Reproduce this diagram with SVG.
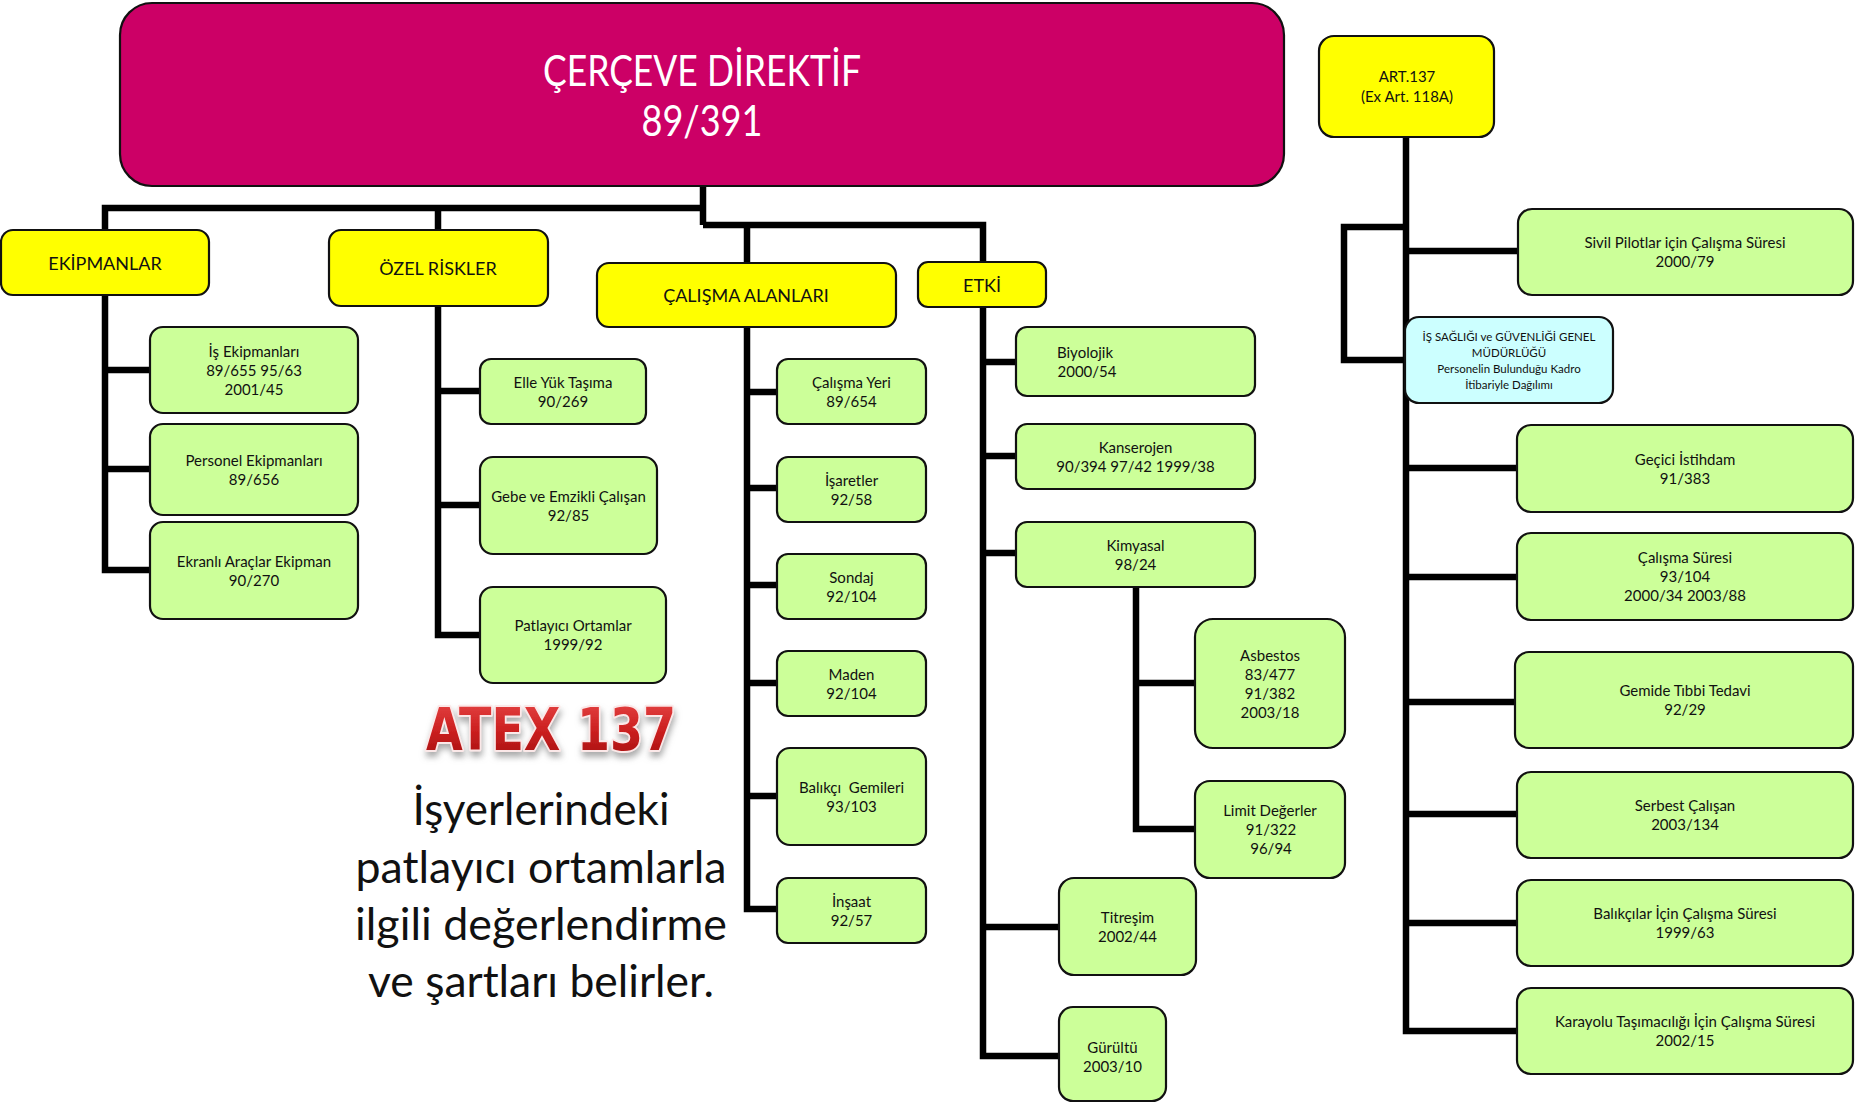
<svg xmlns="http://www.w3.org/2000/svg" width="1863" height="1103" viewBox="0 0 1863 1103">
<defs>
<style>
.g{fill:#CCFF99;stroke:#111;stroke-width:2.2}
.y{fill:#FFFF00;stroke:#111;stroke-width:2.2}
.c{fill:#CCFFFF;stroke:#111;stroke-width:2.2}
.t{font-family:Lato,'Noto Sans',sans-serif;font-size:15px;fill:#111;text-anchor:middle}
.h{font-family:Lato,'Noto Sans',sans-serif;font-size:18px;fill:#111;text-anchor:middle}
.s{font-family:Lato,'Noto Sans',sans-serif;font-size:11.5px;fill:#111;text-anchor:middle}
.p{font-family:Lato,'Noto Sans',sans-serif;font-size:44px;fill:#111;text-anchor:middle}
.ln{fill:none;stroke:#000;stroke-width:6.5;stroke-linejoin:miter;stroke-linecap:butt}
</style>
<linearGradient id="red" x1="0" y1="0" x2="0" y2="1">
<stop offset="0" stop-color="#e84848"/>
<stop offset="0.5" stop-color="#cc2020"/>
<stop offset="1" stop-color="#a01010"/>
</linearGradient>
<filter id="sh" x="-10%" y="-30%" width="120%" height="170%">
<feDropShadow dx="1" dy="5" stdDeviation="3" flood-color="#888" flood-opacity="0.7"/>
</filter>
</defs>
<rect width="1863" height="1103" fill="#fff"/>

<g id="connectors">
<path class="ln" d="M703,186 V225"/>
<path class="ln" d="M105,232 V208 H703"/>
<path class="ln" d="M703,225 H983 V264"/>
<path class="ln" d="M438,208 V232"/>
<path class="ln" d="M747,225 V265"/>
<path class="ln" d="M105,295 V570 H152"/>
<path class="ln" d="M105,370 H152 M105,469 H152"/>
<path class="ln" d="M438,306 V635 H482"/>
<path class="ln" d="M438,391 H482 M438,505 H482"/>
<path class="ln" d="M747,327 V909 H779"/>
<path class="ln" d="M747,392 H779 M747,488 H779 M747,585 H779 M747,683 H779 M747,796 H779"/>
<path class="ln" d="M983,307 V1056 H1061"/>
<path class="ln" d="M983,362 H1018 M983,456 H1018 M983,553 H1018 M983,927 H1061"/>
<path class="ln" d="M1136,587 V829 H1197"/>
<path class="ln" d="M1136,683 H1197"/>
<path class="ln" d="M1406,137 V1031 H1519"/>
<path class="ln" d="M1406,251 H1520 M1406,468 H1519 M1406,577 H1519 M1406,702 H1517 M1406,814 H1519 M1406,923 H1519"/>
<path class="ln" d="M1406,227 H1344 V360 H1407"/>
</g>

<g id="main">
<rect x="120" y="3" width="1164" height="183" rx="32" fill="#CC0066" stroke="#111" stroke-width="2.2"/>
<text x="702" y="86" font-family="Lato,'Noto Sans',sans-serif" font-size="42" fill="#fff" text-anchor="middle" textLength="318" lengthAdjust="spacingAndGlyphs">ÇERÇEVE DİREKTİF</text>
<text x="702" y="136" font-family="Lato,'Noto Sans',sans-serif" font-size="42" fill="#fff" text-anchor="middle" textLength="121" lengthAdjust="spacingAndGlyphs">89/391</text>
</g>

<g id="ekipmanlar"><rect class="y" x="1" y="230" width="208" height="65" rx="12"/><text class="h" x="105" y="270">EKİPMANLAR</text></g>
<g id="ozel-riskler"><rect class="y" x="329" y="230" width="219" height="76" rx="12"/><text class="h" x="438" y="275">ÖZEL RİSKLER</text></g>
<g id="calisma-alanlari"><rect class="y" x="597" y="263" width="299" height="64" rx="12"/><text class="h" x="746" y="302">ÇALIŞMA ALANLARI</text></g>
<g id="etki"><rect class="y" x="918" y="262" width="128" height="45" rx="10"/><text class="h" x="982" y="292">ETKİ</text></g>
<g id="art137"><rect class="y" x="1319" y="36" width="175" height="101" rx="15"/><text class="t" x="1407" y="82">ART.137</text><text class="t" x="1407" y="102">(Ex Art. 118A)</text></g>

<g id="is-ekipmanlari"><rect class="g" x="150" y="327" width="208" height="86" rx="13"/><text class="t" x="254" y="356.5">İş Ekipmanları</text><text class="t" x="254" y="375.5">89/655 95/63</text><text class="t" x="254" y="394.5">2001/45</text></g>
<g id="personel-ekipmanlari"><rect class="g" x="150" y="424" width="208" height="91" rx="13"/><text class="t" x="254" y="465.5">Personel Ekipmanları</text><text class="t" x="254" y="484.5">89/656</text></g>
<g id="ekranli"><rect class="g" x="150" y="522" width="208" height="97" rx="13"/><text class="t" x="254" y="566.5">Ekranlı Araçlar Ekipman</text><text class="t" x="254" y="585.5">90/270</text></g>

<g id="elle-yuk"><rect class="g" x="480" y="359" width="166" height="65" rx="11"/><text class="t" x="563" y="387.5">Elle Yük Taşıma</text><text class="t" x="563" y="406.5">90/269</text></g>
<g id="gebe"><rect class="g" x="480" y="457" width="177" height="97" rx="13"/><text class="t" x="568.5" y="501.5">Gebe ve Emzikli Çalışan</text><text class="t" x="568.5" y="520.5">92/85</text></g>
<g id="patlayici"><rect class="g" x="480" y="587" width="186" height="96" rx="13"/><text class="t" x="573" y="631">Patlayıcı Ortamlar</text><text class="t" x="573" y="650">1999/92</text></g>

<g id="calisma-yeri"><rect class="g" x="777" y="359" width="149" height="65" rx="11"/><text class="t" x="851.5" y="387.5">Çalışma Yeri</text><text class="t" x="851.5" y="406.5">89/654</text></g>
<g id="isaretler"><rect class="g" x="777" y="457" width="149" height="65" rx="11"/><text class="t" x="851.5" y="485.5">İşaretler</text><text class="t" x="851.5" y="504.5">92/58</text></g>
<g id="sondaj"><rect class="g" x="777" y="554" width="149" height="65" rx="11"/><text class="t" x="851.5" y="582.5">Sondaj</text><text class="t" x="851.5" y="601.5">92/104</text></g>
<g id="maden"><rect class="g" x="777" y="651" width="149" height="65" rx="11"/><text class="t" x="851.5" y="679.5">Maden</text><text class="t" x="851.5" y="698.5">92/104</text></g>
<g id="balikci-gemileri"><rect class="g" x="777" y="748" width="149" height="97" rx="13"/><text class="t" x="851.5" y="792.5" xml:space="preserve">Balıkçı  Gemileri</text><text class="t" x="851.5" y="811.5">93/103</text></g>
<g id="insaat"><rect class="g" x="777" y="878" width="149" height="65" rx="11"/><text class="t" x="851.5" y="906.5">İnşaat</text><text class="t" x="851.5" y="925.5">92/57</text></g>

<g id="biyolojik"><rect class="g" x="1016" y="327" width="239" height="69" rx="11"/><text class="t" x="1085" y="357.5">Biyolojik</text><text class="t" x="1087" y="376.5">2000/54</text></g>
<g id="kanserojen"><rect class="g" x="1016" y="424" width="239" height="65" rx="11"/><text class="t" x="1135.5" y="452.5">Kanserojen</text><text class="t" x="1135.5" y="471.5">90/394 97/42 1999/38</text></g>
<g id="kimyasal"><rect class="g" x="1016" y="522" width="239" height="65" rx="11"/><text class="t" x="1135.5" y="550.5">Kimyasal</text><text class="t" x="1135.5" y="569.5">98/24</text></g>
<g id="asbestos"><rect class="g" x="1195" y="619" width="150" height="129" rx="18"/><text class="t" x="1270" y="660.5">Asbestos</text><text class="t" x="1270" y="679.5">83/477</text><text class="t" x="1270" y="698.5">91/382</text><text class="t" x="1270" y="717.5">2003/18</text></g>
<g id="limit-degerler"><rect class="g" x="1195" y="781" width="150" height="97" rx="15"/><text class="t" x="1270" y="816">Limit Değerler</text><text class="t" x="1271" y="835">91/322</text><text class="t" x="1271" y="854">96/94</text></g>
<g id="titresim"><rect class="g" x="1059" y="878" width="137" height="97" rx="15"/><text class="t" x="1127.5" y="922.5">Titreşim</text><text class="t" x="1127.5" y="941.5">2002/44</text></g>
<g id="gurultu"><rect class="g" x="1059" y="1007" width="107" height="94" rx="14"/><text class="t" x="1112.5" y="1053">Gürültü</text><text class="t" x="1112.5" y="1072">2003/10</text></g>

<g id="sivil-pilotlar"><rect class="g" x="1518" y="209" width="335" height="86" rx="14"/><text class="t" x="1685" y="248">Sivil Pilotlar için Çalışma Süresi</text><text class="t" x="1685" y="267">2000/79</text></g>
<g id="isg-genel-mudurlugu"><rect class="c" x="1405" y="317" width="208" height="86" rx="14"/><text class="s" x="1509" y="341">İŞ SAĞLIĞI ve GÜVENLİĞİ GENEL</text><text class="s" x="1509" y="357">MÜDÜRLÜĞÜ</text><text class="s" x="1509" y="373">Personelin Bulunduğu Kadro</text><text class="s" x="1509" y="389">İtibariyle Dağılımı</text></g>
<g id="gecici-istihdam"><rect class="g" x="1517" y="425" width="336" height="87" rx="14"/><text class="t" x="1685" y="464.5">Geçici İstihdam</text><text class="t" x="1685" y="483.5">91/383</text></g>
<g id="calisma-suresi"><rect class="g" x="1517" y="533" width="336" height="87" rx="14"/><text class="t" x="1685" y="563">Çalışma Süresi</text><text class="t" x="1685" y="582">93/104</text><text class="t" x="1685" y="601">2000/34 2003/88</text></g>
<g id="gemide-tibbi-tedavi"><rect class="g" x="1515" y="652" width="338" height="96" rx="14"/><text class="t" x="1685" y="696">Gemide Tıbbi Tedavi</text><text class="t" x="1685" y="715">92/29</text></g>
<g id="serbest-calisan"><rect class="g" x="1517" y="772" width="336" height="86" rx="14"/><text class="t" x="1685" y="811">Serbest Çalışan</text><text class="t" x="1685" y="830">2003/134</text></g>
<g id="balikcilar"><rect class="g" x="1517" y="880" width="336" height="86" rx="14"/><text class="t" x="1685" y="919">Balıkçılar İçin Çalışma Süresi</text><text class="t" x="1685" y="938">1999/63</text></g>
<g id="karayolu"><rect class="g" x="1517" y="988" width="336" height="86" rx="14"/><text class="t" x="1685" y="1027">Karayolu Taşımacılığı İçin Çalışma Süresi</text><text class="t" x="1685" y="1046">2002/15</text></g>

<g id="atex">
<text x="551" y="750" font-family="'DejaVu Sans',sans-serif" font-weight="bold" font-size="58" fill="url(#red)" stroke="#fbe8e8" stroke-width="4" paint-order="stroke" stroke-linejoin="round" text-anchor="middle" textLength="250" lengthAdjust="spacingAndGlyphs" filter="url(#sh)">ATEX 137</text>
<text class="p" x="541" y="825" textLength="257" lengthAdjust="spacingAndGlyphs">İşyerlerindeki</text>
<text class="p" x="541" y="883" textLength="371" lengthAdjust="spacingAndGlyphs">patlayıcı ortamlarla</text>
<text class="p" x="541" y="940" textLength="372" lengthAdjust="spacingAndGlyphs">ilgili değerlendirme</text>
<text class="p" x="541" y="997" textLength="346" lengthAdjust="spacingAndGlyphs">ve şartları belirler.</text>
</g>
</svg>
